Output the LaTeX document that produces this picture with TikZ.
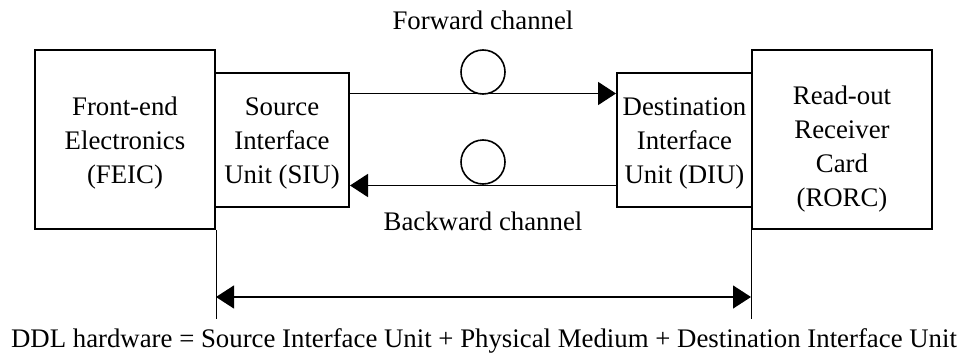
\documentclass[tikz,border=0pt]{standalone}
\usepackage{fontspec}
\setmainfont{Liberation Serif}
\usetikzlibrary{arrows.meta,calc}
\begin{document}
\begin{tikzpicture}[x=1pt,y=-1pt,
  box/.style={draw,line width=2pt,inner sep=0pt},
  lbl/.style={font=\fontsize{26.8}{34}\selectfont,align=center,inner sep=0pt},
  fibre/.style={circle,draw,line width=1.6pt,minimum size=44pt,inner sep=0pt},
  link/.style={line width=1.8pt,-{Triangle[length=18pt,width=23pt]}},
  span/.style={line width=1.3pt,{Triangle[length=18pt,width=23pt]}-{Triangle[length=18pt,width=23pt]}},
  guide/.style={line width=1pt}]
\useasboundingbox (0,0) rectangle (961,356);

% units
\node[box,minimum width=180pt,minimum height=179pt] (feic) at (125,139.5) {};
\node[box,minimum width=134pt,minimum height=134pt] (siu) at (282,139.5) {};
\node[box,minimum width=135pt,minimum height=134pt] (diu) at (684.5,139.5) {};
\node[box,minimum width=180pt,minimum height=179pt] (rorc) at (842,139.5) {};

\node[lbl] (feict) at (125,143) {Front-end\\Electronics\\(FEIC)};
\node[lbl] (siut) at (282,143) {Source\\Interface\\Unit (SIU)};
\node[lbl] (diut) at (684.5,143) {Destination\\Interface\\Unit (DIU)};
\node[lbl] (rorct) at (842,149) {Read-out\\Receiver\\Card\\(RORC)};

% channels
\coordinate (fwdA) at ($(siu.north east)+(0,22)$);
\coordinate (fwdB) at (diu.west |- fwdA);
\coordinate (bwdA) at ($(diu.south west)+(0,-22)$);
\coordinate (bwdB) at (siu.east |- bwdA);
\draw[link] (fwdA) -- (fwdB);
\draw[link] (bwdA) -- (bwdB);
\node[fibre] (fc) at (483,72) {};
\node[fibre] (bc) at (483,162) {};
\node[lbl] (fwdt) at (483,20) {Forward channel};
\node[lbl] (bwdt) at (483,221) {Backward channel};

% extent of the DDL hardware
\draw[guide] (feic.south east) -- ++(0,89) coordinate (gl);
\draw[guide] (rorc.south west) -- ++(0,89) coordinate (gr);
\coordinate (sl) at ($(gl)+(0,-22)$);
\coordinate (sr) at ($(gr)+(0,-22)$);
\draw[span] (sl) -- (sr);
\node[lbl] (ddl) at (484,341) {DDL hardware = Source Interface Unit + Physical Medium + Destination Interface Unit};
\end{tikzpicture}
\end{document}
